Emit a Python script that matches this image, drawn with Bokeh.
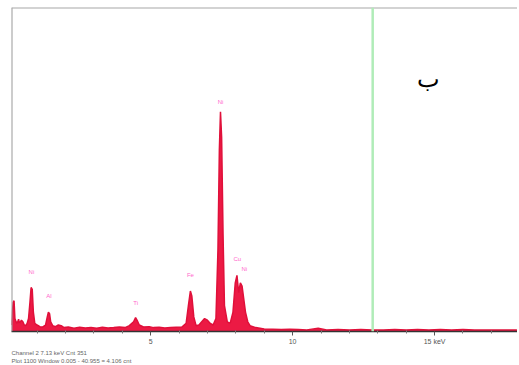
from bokeh.plotting import figure
from bokeh.models import Range1d, Span, Label, FixedTicker, Title, ColumnDataSource
from bokeh.embed import file_html
from bokeh.resources import INLINE

# EDS spectrum (energy in keV, counts)
energy = [0.10, 0.13, 0.16, 0.19, 0.22, 0.26, 0.30, 0.35, 0.38, 0.45, 0.50, 0.55, 0.60, 0.65,
          0.70, 0.75, 0.79, 0.83, 0.87, 0.92, 1.00, 1.10, 1.20, 1.30, 1.36, 1.40, 1.44, 1.48,
          1.55, 1.65, 1.75, 1.85, 1.95, 2.1, 2.3, 2.5, 2.7, 2.9, 3.1, 3.3, 3.5, 3.7, 3.9, 4.1,
          4.25, 4.4, 4.47, 4.52, 4.6, 4.75, 4.95, 5.1, 5.3, 5.5, 5.7, 5.9, 6.1, 6.25, 6.33,
          6.40, 6.45, 6.52, 6.6, 6.7, 6.8, 6.9, 7.0, 7.1, 7.2, 7.3, 7.37, 7.42, 7.46, 7.50,
          7.55, 7.60, 7.7, 7.8, 7.9, 7.98, 8.04, 8.10, 8.16, 8.22, 8.28, 8.34, 8.42, 8.5, 8.7,
          9.0, 9.3, 9.6, 9.9, 10.2, 10.5, 10.9, 11.2, 11.6, 12.0, 12.4, 12.8, 13.2, 13.6, 14.0,
          14.4, 14.8, 15.2, 15.6, 16.0, 16.4, 16.8, 17.2, 17.9]
counts = [20, 60, 90, 95, 40, 30, 25, 38, 25, 35, 30, 20, 18, 25,
          40, 90, 136, 130, 60, 25, 20, 15, 14, 20, 45, 60, 55, 30,
          18, 15, 20, 18, 12, 14, 10, 13, 11, 12, 10, 13, 11, 12, 14, 12,
          18, 30, 43, 35, 20, 14, 15, 12, 13, 11, 12, 13, 14, 25, 80,
          125, 110, 45, 18, 20, 30, 40, 35, 25, 20, 40, 250, 560, 678, 600,
          300, 80, 30, 25, 60, 150, 173, 120, 150, 140, 100, 60, 30, 18, 12,
          8, 7, 6, 7, 6, 5, 10, 5, 6, 5, 6, 5, 5, 6, 5,
          6, 5, 6, 5, 6, 5, 5, 5, 5]

tick_values = [5, 10, 15]
tick_labels = ["5", "10", "15 keV"]
minor_values = [1, 2, 3, 4, 6, 7, 8, 9, 11, 12, 13, 14, 16, 17]

marker_energy = 12.82

peak_label_x = [0.8, 1.42, 4.47, 6.4, 7.46, 8.05, 8.3]
peak_label_y = [175, 100, 80, 165, 700, 215, 185]
peak_label_text = ["Ni", "Al", "Ti", "Fe", "Ni", "Cu", "Ni"]

src = ColumnDataSource(dict(e=energy, c=counts, z=[0] * len(energy)))

p = figure(width=517, height=363, output_backend="svg", toolbar_location=None,
           x_range=Range1d(0.1, 17.92), y_range=Range1d(0, 1000),
           min_border_left=11, min_border_right=0, min_border_top=7, min_border_bottom=0)
p.outline_line_color = None
p.background_fill_color = "white"
p.border_fill_color = "white"
p.xgrid.visible = False
p.ygrid.visible = False
p.yaxis.visible = False

p.varea(x="e", y1="z", y2="c", source=src, fill_color="#ec1a44")
p.line(x="e", y="c", source=src, line_color="#e0103a", line_width=1.5)

# frame lines (left and top)
p.add_layout(Span(location=0.1, dimension="height", line_color="#9a9a9a", line_width=2))
p.add_layout(Span(location=1000, dimension="width", line_color="#a8a8a8", line_width=2))
# marker line
p.add_layout(Span(location=marker_energy, dimension="height", line_color="#b0ecb8", line_width=2.5))

p.text(x=peak_label_x, y=peak_label_y, text=peak_label_text, text_font_size="6px",
       text_color="#ff66cc", text_align="center", text_baseline="bottom")

p.add_layout(Label(x=14.8, y=780, text="ب", text_font_size="24px", text_color="black",
                   text_font="DejaVu Serif", text_align="center", text_baseline="middle"))

ax = p.xaxis[0]
ax.ticker = FixedTicker(ticks=tick_values, minor_ticks=minor_values)
ax.major_label_overrides = {v: l for v, l in zip(tick_values, tick_labels)}
ax.axis_line_color = "#333333"
ax.axis_line_width = 1.5
ax.major_tick_line_color = "#555555"
ax.major_tick_out = 4
ax.major_tick_in = 0
ax.minor_tick_line_color = "#777777"
ax.minor_tick_out = 2
ax.minor_tick_in = 1
ax.major_label_text_font_size = "7px"
ax.major_label_text_color = "#555555"
ax.major_label_standoff = 2

p.add_layout(Title(text="Channel 2 7.13 keV      Cnt 351", text_font_size="6px",
                   text_font_style="normal", text_color="#666666", align="left",
                   standoff=0), "below")
p.add_layout(Title(text="Plot 1100                         Window 0.005 - 40.955 = 4,106 cnt",
                   text_font_size="6px", text_font_style="normal", text_color="#666666",
                   align="left", standoff=0), "below")

open("out.html", "w").write(file_html(p, INLINE))
